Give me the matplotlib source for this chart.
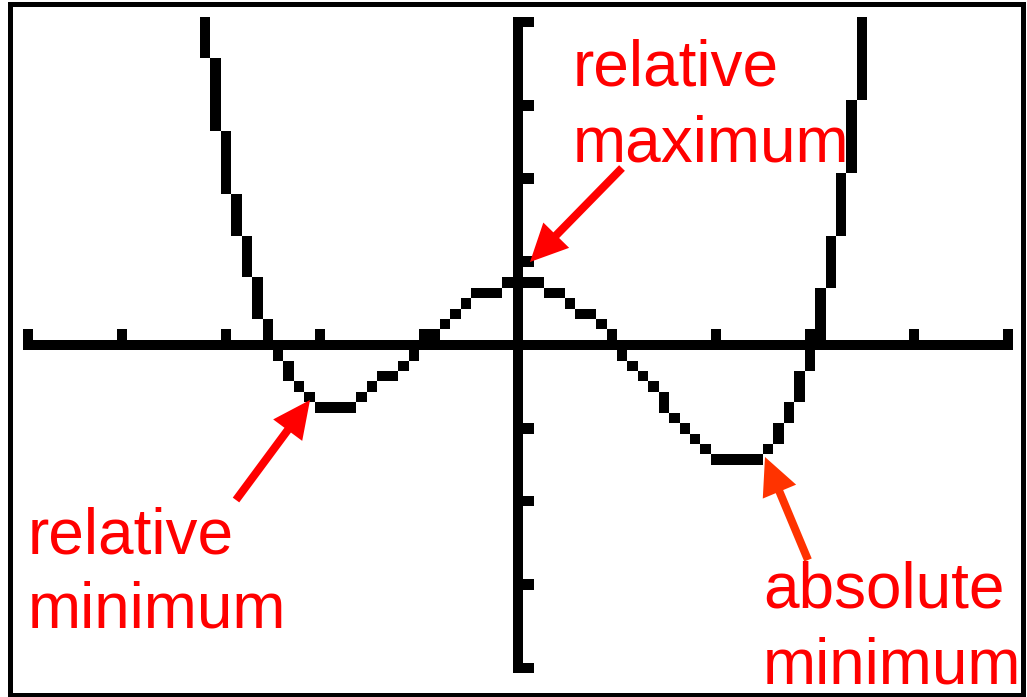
import numpy as np
import matplotlib
matplotlib.use("Agg")
import matplotlib.pyplot as plt
from matplotlib.patches import Rectangle, FancyArrowPatch

# ---- calculator window ----
x_window = [-5, 5]
y_window = [-4, 4]
x_ticks = [-5, -4, -3, -2, -1, 0, 1, 2, 3, 4, 5]
y_ticks = [-4, -3, -2, -1, 0, 1, 2, 3, 4]
screen_cols = 95
screen_rows = 63

# ---- curve samples (one per screen column) ----
curve_x = [-3.298, -3.191, -3.085, -2.979, -2.872, -2.766, -2.660, -2.553,
           -2.447, -2.340, -2.234, -2.128, -2.021, -1.915, -1.809, -1.702,
           -1.596, -1.489, -1.383, -1.277, -1.170, -1.064, -0.957, -0.851,
           -0.745, -0.638, -0.532, -0.426, -0.319, -0.213, -0.106, 0.000,
           0.106, 0.213, 0.319, 0.426, 0.532, 0.638, 0.745, 0.851,
           0.957, 1.064, 1.170, 1.277, 1.383, 1.489, 1.596, 1.702,
           1.809, 1.915, 2.021, 2.128, 2.234, 2.340, 2.447, 2.553,
           2.660, 2.766, 2.872, 2.979, 3.085, 3.191, 3.298, 3.404,
           3.511, 3.617]
curve_y = [4.963, 3.933, 3.033, 2.253, 1.585, 1.020, 0.549, 0.163,
           -0.145, -0.382, -0.556, -0.673, -0.742, -0.767, -0.755, -0.712,
           -0.643, -0.553, -0.447, -0.329, -0.205, -0.077, 0.051, 0.175,
           0.293, 0.401, 0.499, 0.582, 0.650, 0.702, 0.735, 0.750,
           0.746, 0.722, 0.679, 0.617, 0.537, 0.439, 0.326, 0.199,
           0.059, -0.091, -0.248, -0.410, -0.573, -0.734, -0.889, -1.035,
           -1.166, -1.278, -1.365, -1.424, -1.447, -1.430, -1.365, -1.246,
           -1.067, -0.820, -0.497, -0.092, 0.405, 1.001, 1.706, 2.528,
           3.475, 4.650]

labels = ["relative\nmaximum", "relative\nminimum", "absolute\nminimum"]

W, H = 1027, 697
fig = plt.figure(figsize=(W / 100, H / 100), dpi=100)
fig.patch.set_facecolor("white")

dx = (x_window[1] - x_window[0]) / (screen_cols - 1)
dy = (y_window[1] - y_window[0]) / (screen_rows - 1)

# screen area in image pixels
left_px, right_px = 22.8, 1013.2
top_px, bot_px = 16.8, 673.2
ax = fig.add_axes([left_px / W, (H - bot_px) / H,
                   (right_px - left_px) / W, (bot_px - top_px) / H])
ax.set_xlim(x_window[0] - dx / 2, x_window[1] + dx / 2)
ax.set_ylim(y_window[0] - dy / 2, y_window[1] + dy / 2)
ax.axis("off")


def col_of(x):
    return int(np.floor((x - x_window[0]) / dx + 0.5))


def row_of(y):
    # ties go towards the top of the screen
    return int(np.ceil((y_window[1] - y) / dy - 0.5 - 1e-9))


def pixels(c, r0, r1):
    r0, r1 = max(min(r0, r1), 0), min(max(r0, r1), screen_rows - 1)
    if r0 > r1 or c < 0 or c >= screen_cols:
        return
    x0 = x_window[0] + (c - 0.5) * dx
    ytop = y_window[1] - (r0 - 0.5) * dy
    ybot = y_window[1] - (r1 + 0.5) * dy
    ax.add_patch(Rectangle((x0, ybot), dx, ytop - ybot, facecolor="black",
                           edgecolor="none", antialiased=False, zorder=3))


# axes
r_axis = row_of(0)
c_axis = col_of(0)
for c in range(screen_cols):
    pixels(c, r_axis, r_axis)
pixels(c_axis, 0, screen_rows - 1)
for t in x_ticks:
    pixels(col_of(t), r_axis - 1, r_axis - 1)
for t in y_ticks:
    pixels(c_axis + 1, row_of(t), row_of(t))

# curve, connected mode
cols = [col_of(v) for v in curve_x]
rows = [row_of(v) for v in curve_y]
n = len(cols)
for i in range(n):
    R = rows[i]
    rs = {R}
    if i > 0:
        P = rows[i - 1]
        for k in range(min(P, R), max(P, R) + 1):
            if k != P and abs(k - R) <= abs(k - P):
                rs.add(k)
    if i < n - 1:
        N = rows[i + 1]
        for k in range(min(N, R), max(N, R) + 1):
            if k != N and abs(k - R) < abs(k - N):
                rs.add(k)
    pixels(cols[i], min(rs), max(rs))

# ---- overlay: frame, labels, arrows (image pixel coords) ----
ov = fig.add_axes([0, 0, 1, 1], zorder=5)
ov.set_xlim(0, W)
ov.set_ylim(H, 0)
ov.axis("off")
ov.patch.set_alpha(0)

ov.add_patch(Rectangle((9.5, 4.0), 1013.0, 691.0, fill=False,
                       edgecolor="black", linewidth=3.6))

font = dict(family="Liberation Sans", fontsize=46, va="baseline", ha="left")
lab_pos = [((573, 86), (573, 162)),
           ((28, 553), (28, 628)),
           ((763, 607), (763, 684))]
for lab, pos in zip(labels, lab_pos):
    for line, (px, py) in zip(lab.split("\n"), pos):
        ov.text(px, py, line, color="#ff0000", **font)

arrows = [((622, 168), (530, 262), "#ff0000"),
          ((236, 500), (310, 400), "#ff0000"),
          ((808, 560), (765, 457), "#ff3300")]
for a, b, col in arrows:
    ov.add_patch(FancyArrowPatch(
        a, b, arrowstyle="simple,head_length=27,head_width=26,tail_width=5.8",
        mutation_scale=1, color=col, shrinkA=0, shrinkB=0, lw=0))

fig.savefig("out.png", dpi=100, facecolor="white")
